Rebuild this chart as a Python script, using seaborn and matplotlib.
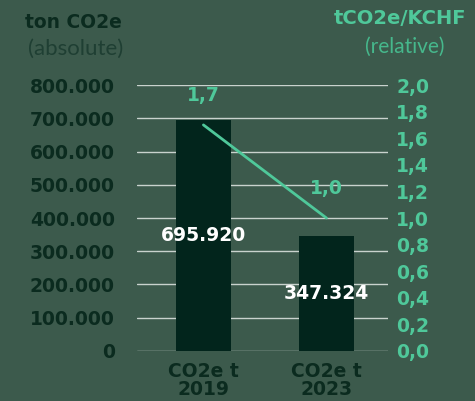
import numpy as np
import seaborn as sns
import matplotlib.pyplot as plt
from matplotlib.ticker import FuncFormatter

sns.set_theme(style='white')
plt.rcParams['font.family'] = ['DejaVu Sans']

# data
categories = ['CO2e t\n2019', 'CO2e t\n2023']
absolute = [695920, 347324]
relative = [1.7, 1.0]

bg = '#3c5a4c'
bar_col = '#02251c'
dark = '#0b2b1f'
mint = '#4fc89a'
fs = 13.5

fig = plt.figure(figsize=(4.75, 4.01), dpi=100, facecolor=bg)
ax = fig.add_axes([0.2884, 0.1247, 0.5284, 0.6633])
ax.set_facecolor(bg)

sns.barplot(x=categories, y=absolute, color=bar_col, width=0.45, saturation=1,
            edgecolor=bar_col, linewidth=0, ax=ax, zorder=3)
ax.set_ylim(0, 800000)
ax.set_xlim(-0.54, 1.5)
ax.set_yticks(np.arange(0, 800001, 100000))
ax.yaxis.set_major_formatter(FuncFormatter(lambda v, p: f'{int(v):,}'.replace(',', '.')))
ax.grid(axis='y', color='#c9d2cd', linewidth=1.0, zorder=0)
ax.set_axisbelow(True)
for s in ax.spines.values():
    s.set_visible(False)
ax.tick_params(axis='y', length=0, pad=16, labelsize=fs, labelcolor=dark)
ax.tick_params(axis='x', length=0, pad=8, labelsize=fs, labelcolor=dark)
for t in ax.get_yticklabels() + ax.get_xticklabels():
    t.set_fontweight('bold')
for t in ax.get_xticklabels():
    t.set_linespacing(0.9)
ax.set_xlabel('')

# bar value labels
for i, v in enumerate(absolute):
    ax.text(i, v / 2, f'{v:,}'.replace(',', '.'), ha='center', va='center',
            color='white', fontsize=fs, fontweight='bold', zorder=5)

# relative line on right axis
ax2 = ax.twinx()
ax2.set_ylim(0, 2.0)
ax2.set_yticks(np.arange(0, 2.01, 0.2))
ax2.yaxis.set_major_formatter(FuncFormatter(lambda v, p: f'{v:.1f}'.replace('.', ',')))
sns.lineplot(x=[0, 1], y=relative, color=mint, linewidth=2, ax=ax2)
for s in ax2.spines.values():
    s.set_visible(False)
ax2.tick_params(axis='y', length=0, pad=6, labelsize=fs, labelcolor=mint)
for t in ax2.get_yticklabels():
    t.set_fontweight('bold')
for i, v in enumerate(relative):
    ax2.annotate(f'{v:.1f}'.replace('.', ','), (i, v), xytext=(0, 21),
                 textcoords='offset points', ha='center', va='center',
                 color=mint, fontsize=fs, fontweight='bold')

# axis titles
fig.text(25 / 475, 1 - 22 / 401, 'ton CO2e', ha='left', va='center',
         color=dark, fontsize=fs, fontweight='bold')
fig.text(76 / 475, 1 - 49 / 401, '(absolute)', ha='center', va='center',
         color='#1f3f33', fontsize=16, family='Lato', fontweight='normal')
fig.text(334 / 475, 1 - 18 / 401, 'tCO2e/KCHF', ha='left', va='center',
         color=mint, fontsize=14, fontweight='bold')
fig.text(405 / 475, 1 - 47 / 401, '(relative)', ha='center', va='center',
         color='#46b88c', fontsize=15, family='Lato', fontweight='normal')

fig.savefig('out.png', dpi=100, facecolor=bg)
